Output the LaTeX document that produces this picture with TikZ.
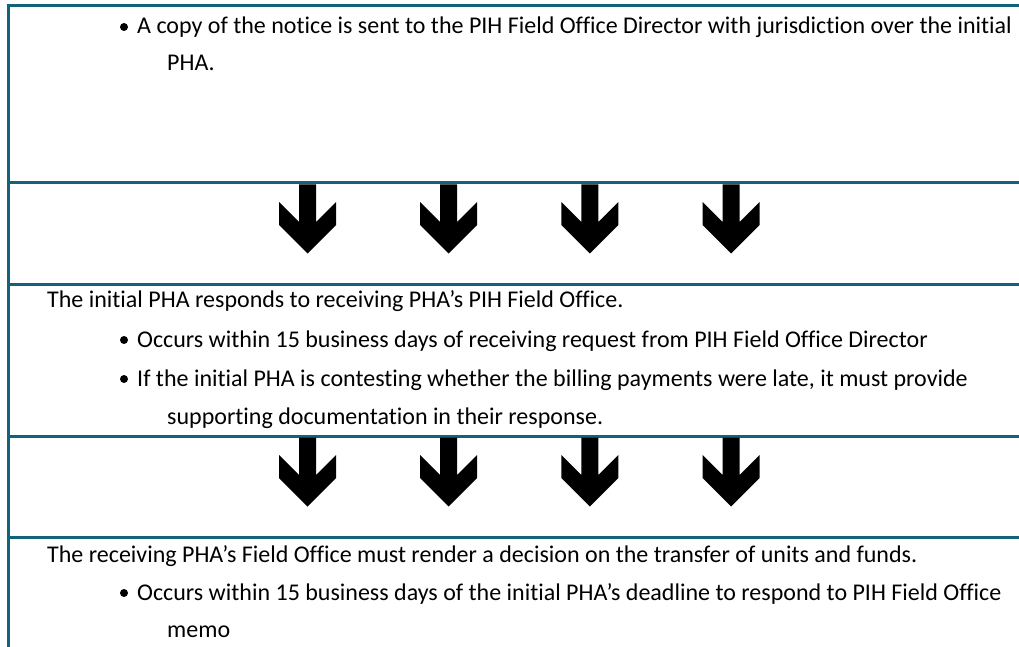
\documentclass[tikz,border=0pt]{standalone}
\usepackage{fontspec}
\setmainfont[Ligatures=NoCommon]{Carlito}
\definecolor{ruleteal}{RGB}{17,99,122}
\begin{document}
\begin{tikzpicture}[x=1pt,y=-1pt,
  rule/.style={draw=ruleteal, line width=3pt},
  txt/.style={anchor=base west, inner sep=0pt, font=\fontsize{24}{28}\selectfont},
  bul/.style={anchor=center, circle, fill=black, inner sep=0pt, minimum size=8pt},
  chevarrow/.style={fill=black}]
\useasboundingbox (0,0) rectangle (1019,647);
% rules
\draw[rule] (8,647) -- (8,4.5);
\draw[rule] (6.5,6) -- (1019,6);
\foreach \yy in {183,284,436,537} \draw[rule] (8,\yy) -- (1019,\yy);
% block 1
\node[bul] (b1) at (124,27) {};
\node[txt] (t1) at (137,34) {A copy of the notice is sent to the PIH Field Office Director with jurisdiction over the initial};
\node[txt] (t1b) at (167,71) {PHA.};
% block 2
\node[txt] (t2) at (47,307) {The initial PHA responds to receiving PHA’s PIH Field Office.};
\node[bul] (b2) at (124,340) {};
\node[txt] (t2a) at (137,347) {Occurs within 15 business days of receiving request from PIH Field Office Director};
\node[bul] (b3) at (124,379) {};
\node[txt] (t2b) at (137,386) {If the initial PHA is contesting whether the billing payments were late, it must provide};
\node[txt] (t2c) at (167,424) {supporting documentation in their response.};
% block 3
\node[txt] (t3) at (47,562) {The receiving PHA’s Field Office must render a decision on the transfer of units and funds.};
\node[bul] (b4) at (124,593) {};
\node[txt] (t3a) at (137,600) {Occurs within 15 business days of the initial PHA’s deadline to respond to PIH Field Office};
\node[txt] (t3b) at (167,637) {memo};
% arrows
\foreach \ty in {184.5,437.5}{
  \foreach \cx in {307.5,448.7,589.9,731}{
    \fill[chevarrow] (\cx-8.5,\ty) -- (\cx+8.5,\ty) -- (\cx+8.5,\ty+37.5)
      -- (\cx+28.5,\ty+17.5) -- (\cx+28.5,\ty+40.5) -- (\cx,\ty+69)
      -- (\cx-28.5,\ty+40.5) -- (\cx-28.5,\ty+17.5) -- (\cx-8.5,\ty+37.5) -- cycle;
  }
}
\end{tikzpicture}
\end{document}
